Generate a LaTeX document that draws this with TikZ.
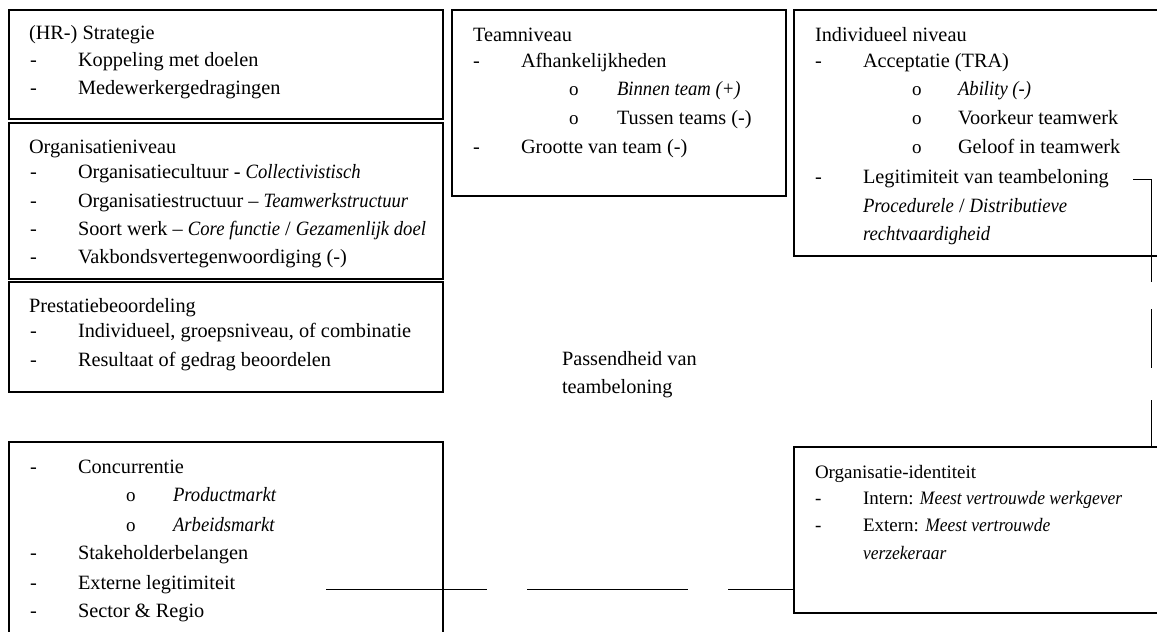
\documentclass[tikz,border=0pt]{standalone}
\usepackage{fontspec}
\setmainfont{Liberation Serif}
\newcommand\iT[1]{\scalebox{0.92}[1]{\itshape #1}}
\begin{document}
\begin{tikzpicture}[x=1pt,y=-1pt,
  box/.style={draw, line width=1.3pt, anchor=north west, inner sep=0pt, outer sep=0pt},
  ln/.style={anchor=base west, inner sep=0pt, outer sep=0pt, font=\fontsize{20.3}{24}\selectfont},
  lnsmall/.style={ln, font=\fontsize{19}{23}\selectfont},
  bul/.style={ln, font=\fontsize{19}{22}\selectfont},
  conn/.style={line width=1pt}]
\useasboundingbox (0,0) rectangle (1157,632);
\clip (0,0) rectangle (1157,632);
\fill[white] (0,0) rectangle (1157,632);

% boxes
\node[box, minimum width=434pt, minimum height=109pt] (strat) at (9,10) {};
\node[box, minimum width=434pt, minimum height=156pt] (org) at (9,123) {};
\node[box, minimum width=434pt, minimum height=110pt] (prest) at (9,282) {};
\node[box, minimum width=434pt, minimum height=220pt] (ext) at (9,442) {};
\node[box, minimum width=334pt, minimum height=186pt] (team) at (452,10) {};
\node[box, minimum width=380pt, minimum height=246pt] (indiv) at (794,10) {};
\node[box, minimum width=380pt, minimum height=166pt] (orgid) at (794,447) {};

% strategy
\node[ln] (s0) at (29,39) {(HR-) Strategie};
\node[ln] (s1d) at (30,66) {-}; \node[ln] (s1) at (78,66) {Koppeling met doelen};
\node[ln] (s2d) at (30,94) {-}; \node[ln] (s2) at (78,94) {Medewerkergedragingen};

% organisatieniveau
\node[ln] (o0) at (29,153) {Organisatieniveau};
\node[ln] (o1d) at (30,178) {-}; \node[ln] (o1) at (78,178) {Organisatiecultuur - \iT{Collectivistisch}};
\node[ln] (o2d) at (30,207) {-}; \node[ln] (o2) at (78,207) {Organisatiestructuur – \iT{Teamwerkstructuur}};
\node[ln] (o3d) at (30,235) {-}; \node[ln] (o3) at (78,235) {Soort werk – \iT{Core functie} / \iT{Gezamenlijk doel}};
\node[ln] (o4d) at (30,263) {-}; \node[ln] (o4) at (78,263) {Vakbondsvertegenwoordiging (-)};

% prestatiebeoordeling
\node[ln] (p0) at (29,312) {Prestatiebeoordeling};
\node[ln] (p1d) at (30,337) {-}; \node[ln] (p1) at (78,337) {Individueel, groepsniveau, of combinatie};
\node[ln] (p2d) at (30,366) {-}; \node[ln] (p2) at (78,366) {Resultaat of gedrag beoordelen};

% external
\node[ln] (e1d) at (30,473) {-}; \node[ln] (e1) at (78,473) {Concurrentie};
\node[bul] (e2b) at (126,501) {o}; \node[ln] (e2) at (173,501) {\iT{Productmarkt}};
\node[bul] (e3b) at (126,531) {o}; \node[ln] (e3) at (173,531) {\iT{Arbeidsmarkt}};
\node[ln] (e4d) at (30,559) {-}; \node[ln] (e4) at (78,559) {Stakeholderbelangen};
\node[ln] (e5d) at (30,589) {-}; \node[ln] (e5) at (78,589) {Externe legitimiteit};
\node[ln] (e6d) at (30,617) {-}; \node[ln] (e6) at (78,617) {Sector \& Regio};

% teamniveau
\node[ln] (t0) at (473,41) {Teamniveau};
\node[ln] (t1d) at (473,67) {-}; \node[ln] (t1) at (521,67) {Afhankelijkheden};
\node[bul] (t2b) at (569,95) {o}; \node[ln] (t2) at (617,95) {\iT{Binnen team (+)}};
\node[bul] (t3b) at (569,124) {o}; \node[ln] (t3) at (617,124) {Tussen teams (-)};
\node[ln] (t4d) at (473,153) {-}; \node[ln] (t4) at (521,153) {Grootte van team (-)};

% individueel
\node[ln] (i0) at (815,41) {Individueel niveau};
\node[ln] (i1d) at (815,67) {-}; \node[ln] (i1) at (863,67) {Acceptatie (TRA)};
\node[bul] (i2b) at (912,95) {o}; \node[ln] (i2) at (958,95) {\iT{Ability (-)}};
\node[bul] (i3b) at (912,124) {o}; \node[ln] (i3) at (958,124) {Voorkeur teamwerk};
\node[bul] (i4b) at (912,153) {o}; \node[ln] (i4) at (958,153) {Geloof in teamwerk};
\node[ln] (i5d) at (815,183) {-}; \node[ln] (i5) at (863,183) {Legitimiteit van teambeloning};
\node[ln] (i6) at (863,212) {\iT{Procedurele} / \iT{Distributieve}};
\node[ln] (i7) at (863,240) {\iT{rechtvaardigheid}};

% organisatie-identiteit
\node[lnsmall] (g0) at (815,478) {Organisatie-identiteit};
\node[lnsmall] (g1d) at (815,504) {-}; \node[lnsmall] (g1) at (863,504) {Intern: \iT{Meest vertrouwde werkgever}};
\node[lnsmall] (g2d) at (815,531) {-}; \node[lnsmall] (g2) at (863,531) {Extern: \iT{Meest vertrouwde}};
\node[lnsmall] (g3) at (863,559) {\iT{verzekeraar}};

% centre label
\node[ln] (pa1) at (562,365) {Passendheid van};
\node[ln] (pa2) at (562,393) {teambeloning};

% connectors
\coordinate (c1) at (326,589);
\draw[conn, dash pattern=on 161pt off 40pt] (c1) -- (c1 -| orgid.west);
\coordinate (c2) at (1133,179);
\coordinate (c3) at (1151,179);
\draw[conn, dash pattern=on 121pt off 27pt on 59pt off 32pt] (c2) -- (c3) -- (c3 |- orgid.north);
\end{tikzpicture}
\end{document}
